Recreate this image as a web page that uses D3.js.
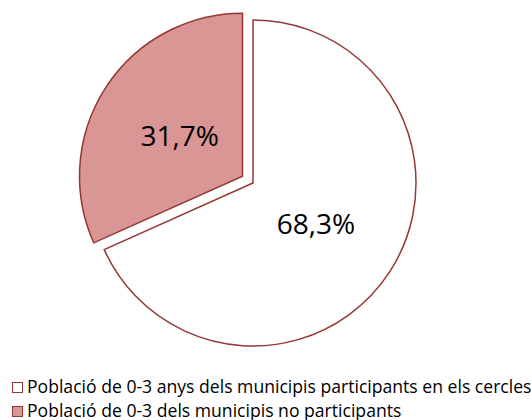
<!DOCTYPE html>
<html>
<head>
<meta charset="utf-8">
<script src="https://cdn.jsdelivr.net/npm/d3@7"></script>
<style>
    body { margin: 0; background: #fff; }
    text { font-family: "Open Sans", sans-serif; fill: #000; }
</style>
</head>
<body>
<div id="chart"></div>
<script>
const categories = [
    "Població de 0-3 anys dels municipis participants en els cercles",
    "Població de 0-3 dels municipis no participants"
]
const values = [68.3, 31.7]
const labels = ["68,3%", "31,7%"]
const exploded = [false, true]

function draw() {
    let dimensions = {
        width: 531,
        height: 420,
        cx: 253,
        cy: 183,
        radius: 163,
        explode: 12.5,
    }

    const svg = d3.select('#chart')
        .append("svg")
        .attr("width", dimensions.width)
        .attr("height", dimensions.height)

    const color = d3.scaleOrdinal()
        .domain(categories)
        .range(["#ffffff", "#d99694"])

    const pie = d3.pie()
        .sort(null)
        .value(d => d.value)

    const data = categories.map((c, i) => ({ name: c, value: values[i], label: labels[i], explode: exploded[i] }))
    const arcs = pie(data)

    const arc = d3.arc()
        .innerRadius(0)
        .outerRadius(dimensions.radius)

    const labelArc = d3.arc()
        .innerRadius(dimensions.radius * 0.46)
        .outerRadius(dimensions.radius * 0.46)

    const ctr = svg.append("g")
        .attr("transform", `translate(${dimensions.cx}, ${dimensions.cy})`)

    // slices, the small one pulled out along its middle angle
    const slices = ctr.selectAll("g.slice")
        .data(arcs)
        .join("g")
        .attr("class", "slice")
        .attr("transform", d => {
            if (!d.data.explode) return null
            const a = (d.startAngle + d.endAngle) / 2
            return `translate(${Math.sin(a) * dimensions.explode}, ${-Math.cos(a) * dimensions.explode})`
        })

    slices.append("path")
        .attr("d", arc)
        .attr("fill", d => color(d.data.name))
        .attr("stroke", "#953735")
        .attr("stroke-width", 1.5)
        .attr("stroke-linejoin", "miter")

    slices.append("text")
        .attr("transform", d => `translate(${labelArc.centroid(d)})`)
        .attr("text-anchor", "middle")
        .attr("dy", "0.36em")
        .style("font-size", "28px")
        .text(d => d.data.label)

    // legend
    const legend = svg.append("g")
        .attr("transform", "translate(12, 382)")

    const items = legend.selectAll("g")
        .data(categories)
        .join("g")
        .attr("transform", (d, i) => `translate(0, ${i * 24})`)

    items.append("rect")
        .attr("x", 0.5)
        .attr("y", 0.5)
        .attr("width", 10)
        .attr("height", 10)
        .attr("fill", d => color(d))
        .attr("stroke", "#953735")
        .attr("stroke-width", 1)

    items.append("text")
        .attr("x", 15)
        .attr("y", 11)
        .style("font-size", "17.6px")
        .text(d => d)
}
draw()
</script>
</body>
</html>
